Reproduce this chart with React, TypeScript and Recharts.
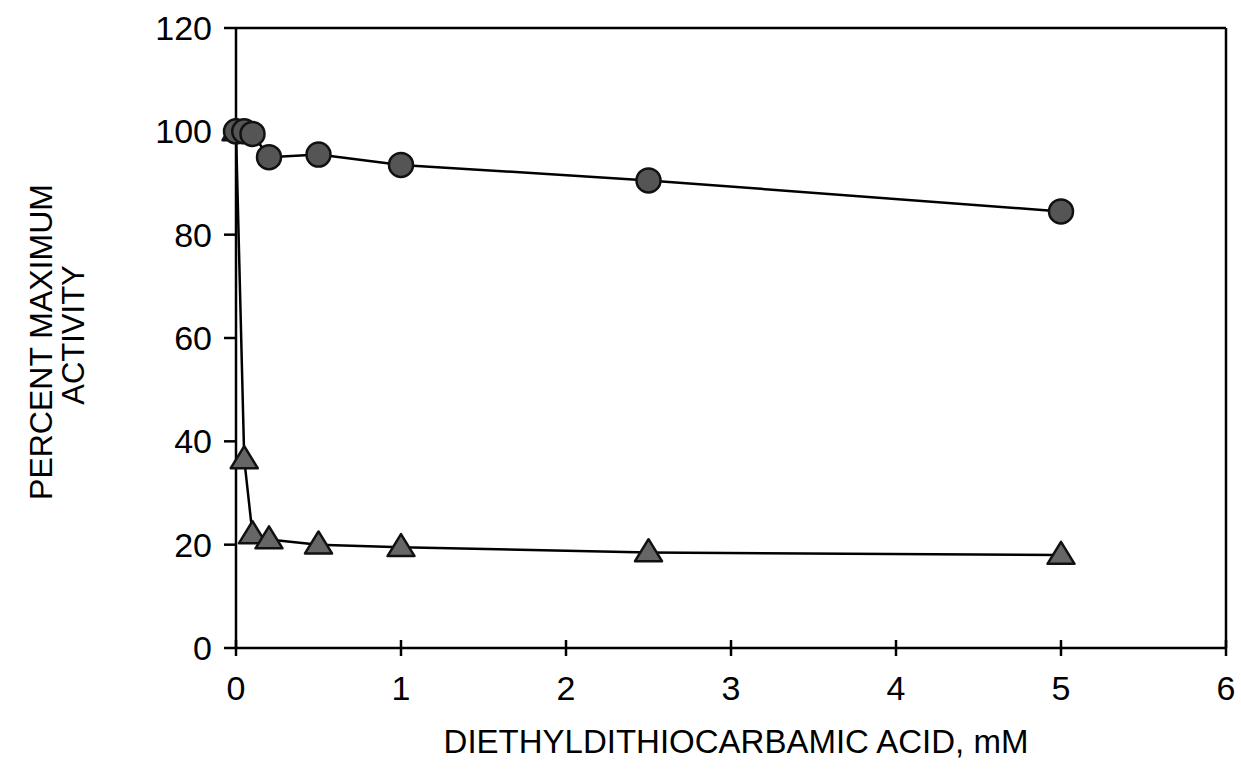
import React from "react";
import {
  LineChart,
  Line,
  XAxis,
  YAxis,
  ReferenceLine,
} from "recharts";

const concentrations = [0, 0.05, 0.1, 0.2, 0.5, 1, 2.5, 5];
const circleValues = [100, 100, 99.5, 95, 95.5, 93.5, 90.5, 84.5];
const triangleValues = [100, 36.5, 22, 21, 20, 19.5, 18.5, 18];

const xTicks = [0, 1, 2, 3, 4, 5, 6];
const yTicks = [0, 20, 40, 60, 80, 100, 120];

const circleData = concentrations.map((x, i) => ({ x, y: circleValues[i] }));
const triangleData = concentrations.map((x, i) => ({ x, y: triangleValues[i] }));

const FONT = "'Liberation Sans', Arial, Helvetica, sans-serif";
const axisStyle = { stroke: "#000", strokeWidth: 2.5 };

const CircleDot = (props: any) => {
  const { cx, cy, index } = props;
  return (
    <circle
      key={`c-${index}`}
      cx={cx}
      cy={cy}
      r={12}
      fill="#555"
      stroke="#111"
      strokeWidth={2.5}
    />
  );
};

const TriangleDot = (props: any) => {
  const { cx, cy, index } = props;
  const h = 22;
  const w = 27;
  const pts = `${cx},${cy - h * 0.6} ${cx - w / 2},${cy + h * 0.4} ${cx + w / 2},${cy + h * 0.4}`;
  return (
    <polygon
      key={`t-${index}`}
      points={pts}
      fill="#666"
      stroke="#111"
      strokeWidth={2.5}
      strokeLinejoin="round"
    />
  );
};

const XTick = (props: any) => {
  const { x, y, payload } = props;
  return (
    <g>
      <line x1={x} x2={x} y1={y - 8} y2={y + 8} stroke="#000" strokeWidth={2.5} />
      <text
        x={x}
        y={y + 52}
        textAnchor="middle"
        fontFamily={FONT}
        fontSize={34}
        fill="#000"
      >
        {payload.value}
      </text>
    </g>
  );
};

const YTitle = () => (
  <g fontFamily={FONT} fill="#000">
    <text
      transform="translate(52,342) rotate(-90)"
      textAnchor="middle"
      fontSize={32}
    >
      PERCENT MAXIMUM
    </text>
    <text
      transform="translate(84,335) rotate(-90)"
      textAnchor="middle"
      fontSize={31}
    >
      ACTIVITY
    </text>
  </g>
);

const XTitle = () => (
  <text
    x={736}
    y={753}
    textAnchor="middle"
    fontFamily={FONT}
    fontSize={33}
    fill="#000"
  >
    DIETHYLDITHIOCARBAMIC ACID, mM
  </text>
);

export default function App() {
  return (
    <div style={{ position: "absolute", left: 0, top: 0, background: "#fff" }}>
      <LineChart
        width={1241}
        height={782}
        margin={{ top: 28, right: 15, bottom: 74, left: 136 }}
      >
        <XAxis
          type="number"
          dataKey="x"
          domain={[0, 6]}
          ticks={xTicks}
          height={60}
          tickSize={0}
          tickMargin={0}
          tickLine={false}
          axisLine={axisStyle}
          tick={<XTick />}
          interval={0}
          label={<XTitle />}
        />
        <YAxis
          type="number"
          dataKey="y"
          domain={[0, 120]}
          ticks={yTicks}
          width={100}
          tickSize={12}
          tickMargin={12}
          axisLine={axisStyle}
          tickLine={axisStyle}
          interval={0}
          tick={{ fill: "#000", fontSize: 34, fontFamily: FONT }}
          label={<YTitle />}
        />
        <ReferenceLine y={120} stroke="#000" strokeWidth={2.5} />
        <ReferenceLine x={6} stroke="#000" strokeWidth={2.5} />
        <Line
          data={triangleData}
          dataKey="y"
          type="linear"
          stroke="#000"
          strokeWidth={2.5}
          dot={TriangleDot}
          activeDot={false}
          isAnimationActive={false}
        />
        <Line
          data={circleData}
          dataKey="y"
          type="linear"
          stroke="#000"
          strokeWidth={2.5}
          dot={CircleDot}
          activeDot={false}
          isAnimationActive={false}
        />
      </LineChart>
    </div>
  );
}
